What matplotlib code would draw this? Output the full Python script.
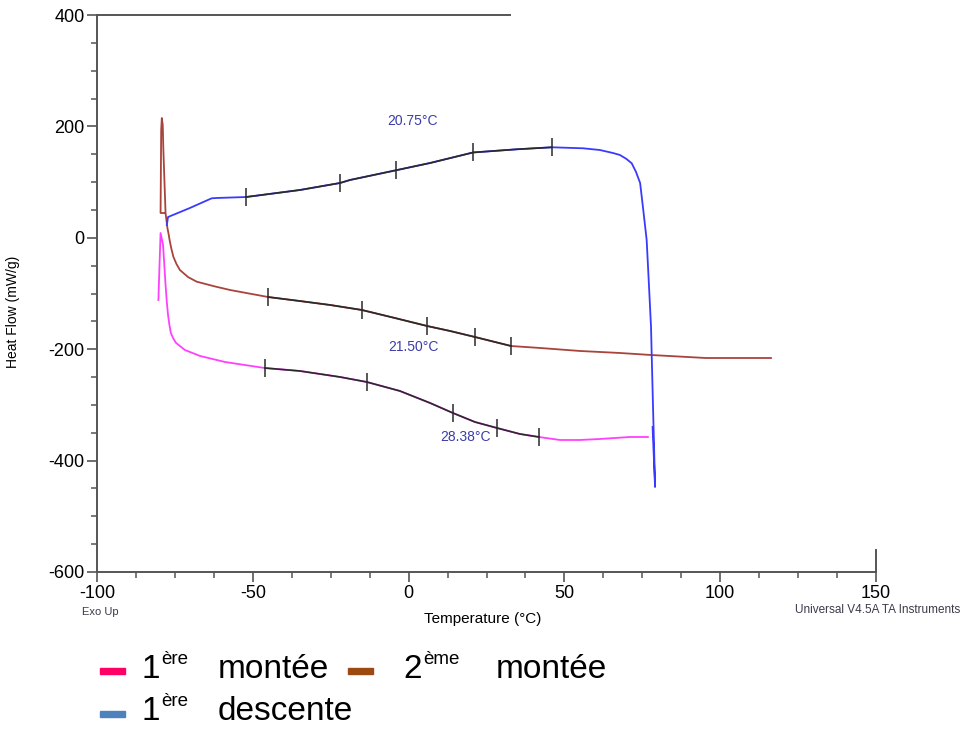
import numpy as np
import matplotlib
matplotlib.use("Agg")
import matplotlib.pyplot as plt
from matplotlib.ticker import MultipleLocator
from matplotlib.patches import Rectangle

plt.rcParams["font.family"] = ["Liberation Sans", "DejaVu Sans"]
plt.rcParams["axes.unicode_minus"] = False

# 1ere montee (pink)
m1_x = [-80.3, -79.6, -78.8, -78.0, -77.6, -77.2, -76.8, -76.3, -75.5, -74.6,
        -73.0, -71.8, -66.9, -58.9, -46.1, -34.9, -22.0, -13.4, -2.8, 6.9,
        14.2, 21.3, 28.4, 35.7, 41.8, 48.6, 55.0, 61.4, 71.1, 76.8]
m1_y = [-111.7, 8.6, -12.9, -84.7, -115.0, -138.6, -155.0, -170.9, -181.0, -188.9,
        -196.0, -201.4, -212.2, -223.0, -233.8, -239.1, -249.9, -258.9, -275.0, -296.6,
        -314.5, -330.7, -341.5, -352.2, -357.6, -363.0, -363.0, -361.2, -357.6, -357.6]
m1_ticks_x = [-46.1, -13.4, 14.2, 28.4, 41.8]

# 2eme montee (brown)
m2_x = [-78.3, -79.6, -79.4, -79.2, -78.9, -78.7, -78.0, -77.4, -77.0, -76.7,
        -76.2, -75.5, -74.5, -73.4, -70.8, -68.0, -62.1, -57.3, -45.1, -34.9,
        -25.2, -15.0, -4.4, 5.9, 13.3, 21.3, 32.9, 42.2, 55.0, 67.8,
        77.8, 95.4, 116.3]
m2_y = [44.5, 44.5, 193.5, 215.1, 202.5, 157.6, 44.5, 17.6, 6.0, -4.0,
        -18.0, -33.9, -47.0, -57.8, -70.4, -78.8, -87.4, -93.7, -106.3, -113.5,
        -120.6, -129.6, -144.0, -158.3, -167.3, -178.1, -194.3, -197.8, -203.2, -206.8,
        -210.4, -215.8, -215.8]
m2_ticks_x = [-45.1, -15.0, 5.9, 21.3, 32.9]

# 1ere descente (blue)
d1_x = [-77.6, -77.2, -70.2, -63.2, -61.5, -52.2, -34.9, -22.0, -18.8, -4.0,
        6.9, 20.7, 34.7, 46.0, 56.0, 61.4, 65.6, 67.8, 69.8, 71.6,
        73.0, 74.3, 75.2, 76.4, 77.1, 77.8, 78.0, 79.1, 78.3]
d1_y = [23.0, 37.3, 53.5, 70.9, 71.5, 73.2, 85.8, 98.4, 103.8, 121.3,
        134.3, 153.2, 158.9, 162.5, 160.7, 157.6, 152.2, 148.7, 142.0, 133.8,
        118.0, 98.4, 55.3, -3.9, -81.1, -160.1, -206.8, -447.4, -339.7]
d1_ticks_x = [-52.2, -22.0, -4.0, 20.7, 46.0]

labels = ["20.75°C", "21.50°C", "28.38°C"]
label_x = [1.4, 1.7, 18.3]
label_y = [209.7, -196.0, -357.6]

fig = plt.figure(figsize=(9.61, 7.29), dpi=100)
ax = fig.add_axes([97 / 961, 1 - 572 / 729, 779 / 961, 557 / 729])

series = [(m1_x, m1_y, m1_ticks_x, "#ff40ff"),
          (m2_x, m2_y, m2_ticks_x, "#a8443c"),
          (d1_x, d1_y, d1_ticks_x, "#3a3aff")]
for xs, ys, tx, col in series:
    xs = np.array(xs)
    ys = np.array(ys)
    ax.plot(xs, ys, color=col, lw=1.3)
    # analysis overlay between first and last tick
    idx = np.where((xs >= tx[0] - 0.01) & (xs <= tx[-1] + 0.01))[0]
    seg_x = xs[idx.min():idx.max() + 1]
    seg_y = ys[idx.min():idx.max() + 1]
    ax.plot(seg_x, seg_y, color="#2a2a2a", lw=1.2)
    ty = np.interp(tx, seg_x, seg_y)
    ax.plot(tx, ty, ls="none", marker="|", ms=13, mew=1.1, color="#2a2a2a")

for t, x, y in zip(labels, label_x, label_y):
    ax.text(x, y, t, color="#3c3ca8", fontsize=10, ha="center", va="center")

ax.set_xlim(-100, 150)
ax.set_ylim(-600, 400)
ax.xaxis.set_major_locator(MultipleLocator(50))
ax.xaxis.set_minor_locator(MultipleLocator(12.5))
ax.yaxis.set_major_locator(MultipleLocator(200))
ax.yaxis.set_minor_locator(MultipleLocator(50))

for s in ["top", "right"]:
    ax.spines[s].set_visible(False)
for s in ["left", "bottom"]:
    ax.spines[s].set_color("#555555")
    ax.spines[s].set_linewidth(1.4)
ax.axhline(400, xmin=0, xmax=413 / 779, color="#555555", lw=1.4, clip_on=False)
ax.axvline(150, ymin=0, ymax=0.04, color="#555555", lw=1.4, clip_on=False)

ax.tick_params(which="major", length=7, width=1.2, color="#555555",
               labelsize=13, pad=2)
ax.tick_params(which="minor", length=4, width=1.1, color="#555555")

ax.set_xlabel("Temperature (°C)", fontsize=11)
ax.set_ylabel("Heat Flow (mW/g)", fontsize=10)
ax.xaxis.set_label_coords(0.4955, -0.072)
ax.yaxis.set_label_coords(-0.099, 0.467)

fig.text(82 / 961, 1 - 612 / 729, "Exo Up", fontsize=8, color="#3a3a4a",
         va="center", ha="left")
fig.text(960 / 961, 1 - 610 / 729, "Universal V4.5A TA Instruments",
         fontsize=8.5, color="#3a3a4a", va="center", ha="right")

# legend drawn below the plot
leg_colors = ["#ff0066", "#9c4a10", "#4f81bd"]
leg_num = ["1", "2", "1"]
leg_sup = ["ère", "ème", "ère"]
leg_word = ["montée", "montée", "descente"]
leg_pos = [(100, 669), (348, 669), (100, 712)]
leg_word_off = [118, 148, 118]
leg_num_off = [41, 55, 41]
for col, n, sp, w, (px, py), wo, no in zip(leg_colors, leg_num, leg_sup, leg_word,
                                          leg_pos, leg_word_off, leg_num_off):
    fig.add_artist(Rectangle((px / 961, 1 - (py + 5) / 729), 25 / 961, 6 / 729,
                             color=col, transform=fig.transFigure))
    fig.text((px + no) / 961, 1 - py / 729, n, fontsize=24, va="center")
    fig.text((px + no + 20) / 961, 1 - (py - 10) / 729, sp, fontsize=13.5,
             va="center")
    fig.text((px + wo) / 961, 1 - py / 729, w, fontsize=24, va="center")

fig.savefig("out.png", dpi=100)
